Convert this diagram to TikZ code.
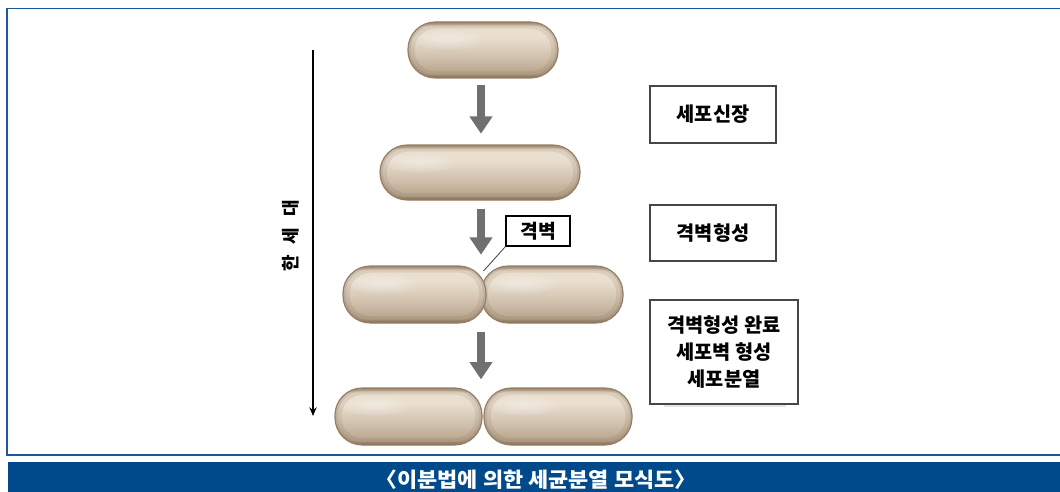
\documentclass[tikz,border=0pt]{standalone}
\usepackage{fontspec}
\newfontfamily\kr{Noto Sans CJK KR}
\usetikzlibrary{arrows.meta}

\definecolor{cellEdge}{RGB}{150,126,102}
\definecolor{cellDark}{RGB}{110,88,66}
\definecolor{cTop}{RGB}{172,150,124}
\definecolor{cLight}{RGB}{234,223,207}
\definecolor{cMid}{RGB}{210,195,176}
\definecolor{cLow}{RGB}{184,164,140}
\definecolor{cBot}{RGB}{142,118,94}
\definecolor{arrowgray}{RGB}{112,112,112}
\definecolor{boxgray}{RGB}{70,70,70}
\definecolor{frameblue}{RGB}{28,88,155}
\definecolor{bandblue}{RGB}{0,74,140}

% body of a rod-shaped cell, dark rim at top and bottom
\pgfdeclareverticalshading{cellshade}{100bp}{%
  color(0bp)=(cBot); color(25bp)=(cBot); color(29bp)=(cLow);
  color(45bp)=(cMid); color(62bp)=(cLight); color(71bp)=(cLight);
  color(75bp)=(cTop); color(100bp)=(cTop)}

\tikzset{
  cell/.style 2 args={shape=rectangle, inner sep=0pt,
    minimum width=#1*0.75pt, minimum height=#2*0.75pt,
    rounded corners=20.5pt, draw=cellEdge, line width=0.9pt,
    shade, shading=cellshade,
    path picture={
      \draw[cellDark, opacity=0.12, line width=10pt, rounded corners=20.5pt]
        (path picture bounding box.south west) rectangle (path picture bounding box.north east);
      \draw[cellDark, opacity=0.15, line width=4pt, rounded corners=20.5pt]
        (path picture bounding box.south west) rectangle (path picture bounding box.north east);
      \foreach \r in {1,...,6}
        \fill[white, opacity=0.07]
          ([shift={(40,18)}]path picture bounding box.north west)
          ellipse ({5+5*\r} and {2+1.3*\r});
    }},
  garrow/.style={draw=arrowgray, line width=6pt,
    -{Triangle[width=16.5pt,length=13pt]}},
  infobox/.style={draw=boxgray, line width=0.8pt, fill=white,
    font=\kr\bfseries\fontsize{14.8}{20.5}\selectfont, align=center, inner sep=0pt},
  lblbox/.style={draw=black, line width=0.8pt, fill=white,
    font=\kr\bfseries\fontsize{14.5}{18}\selectfont, inner sep=0pt,
    minimum width=48pt, minimum height=22.5pt},
}

\begin{document}
\begin{tikzpicture}[x=0.75pt,y=-0.75pt]
\useasboundingbox (0,0) rectangle (1060,492);
\fill[white] (0,0) rectangle (1060,492);

% outer frame, open on the right
\draw[frameblue, line width=1.4pt] (1064,8.5) -- (7,8.5) -- (7,455) -- (1064,455);

% time axis
\coordinate (gtop) at (313,50);
\coordinate (gbot) at (313,416);
\draw[black, line width=1pt, -{Stealth[length=6.5pt,width=5.5pt]}] (gtop) -- (gbot);
\node[font=\kr\bfseries\fontsize{13.5}{15}\selectfont, rotate=90] (gen) at (291,236)
  {한\hspace{0.6em}세\hspace{0.6em}대};

% cells
\node[cell={150}{56}] (c1) at (483,50) {};
\node[cell={200}{55}] (c2) at (480,172.5) {};
\node[cell={142}{57}] (c3r) at (552,294.5) {};
\node[cell={143}{57}] (c3l) at (414.5,294.5) {};
\node[cell={147}{57}] (c4l) at (408.5,416.5) {};
\node[cell={148}{57}] (c4r) at (558,416.5) {};

% process arrows
\coordinate (ax) at (481,0);
\draw[garrow, shorten <=5pt, shorten >=8pt] (c1.south -| ax) -- (c2.north -| ax);
\draw[garrow, shorten <=6pt, shorten >=8pt] (c2.south -| ax) -- (c3l.north -| ax);
\draw[garrow, shorten <=6pt, shorten >=6pt] (c3l.south -| ax) -- (c4l.north -| ax);

% septum label
\coordinate (sept) at (483.5,271);
\node[lblbox] (lbl) at (538,231) {격벽};
\draw[black!75, line width=0.6pt] (lbl.south west) -- (sept);

% stage descriptions
\node[infobox, minimum width=94.5pt, minimum height=42.75pt] (b1) at (713,114.5) {세포신장};
\node[infobox, minimum width=94.5pt, minimum height=42pt] (b2) at (713,233) {격벽형성};
\fill[black!10] (664,403) rectangle (786,407);
\node[infobox, minimum width=111pt, minimum height=78pt] (b3) at (724,352)
  {격벽형성 완료\\세포벽 형성\\세포분열};

% caption band
\fill[bandblue] (8,462) rectangle (1060,492);
\node[text=white, font=\kr\bfseries\fontsize{15.5}{17}\selectfont, xscale=1.06] (cap) at (536,479.5)
  {〈이분법에 의한 세균분열 모식도〉};
\end{tikzpicture}
\end{document}
